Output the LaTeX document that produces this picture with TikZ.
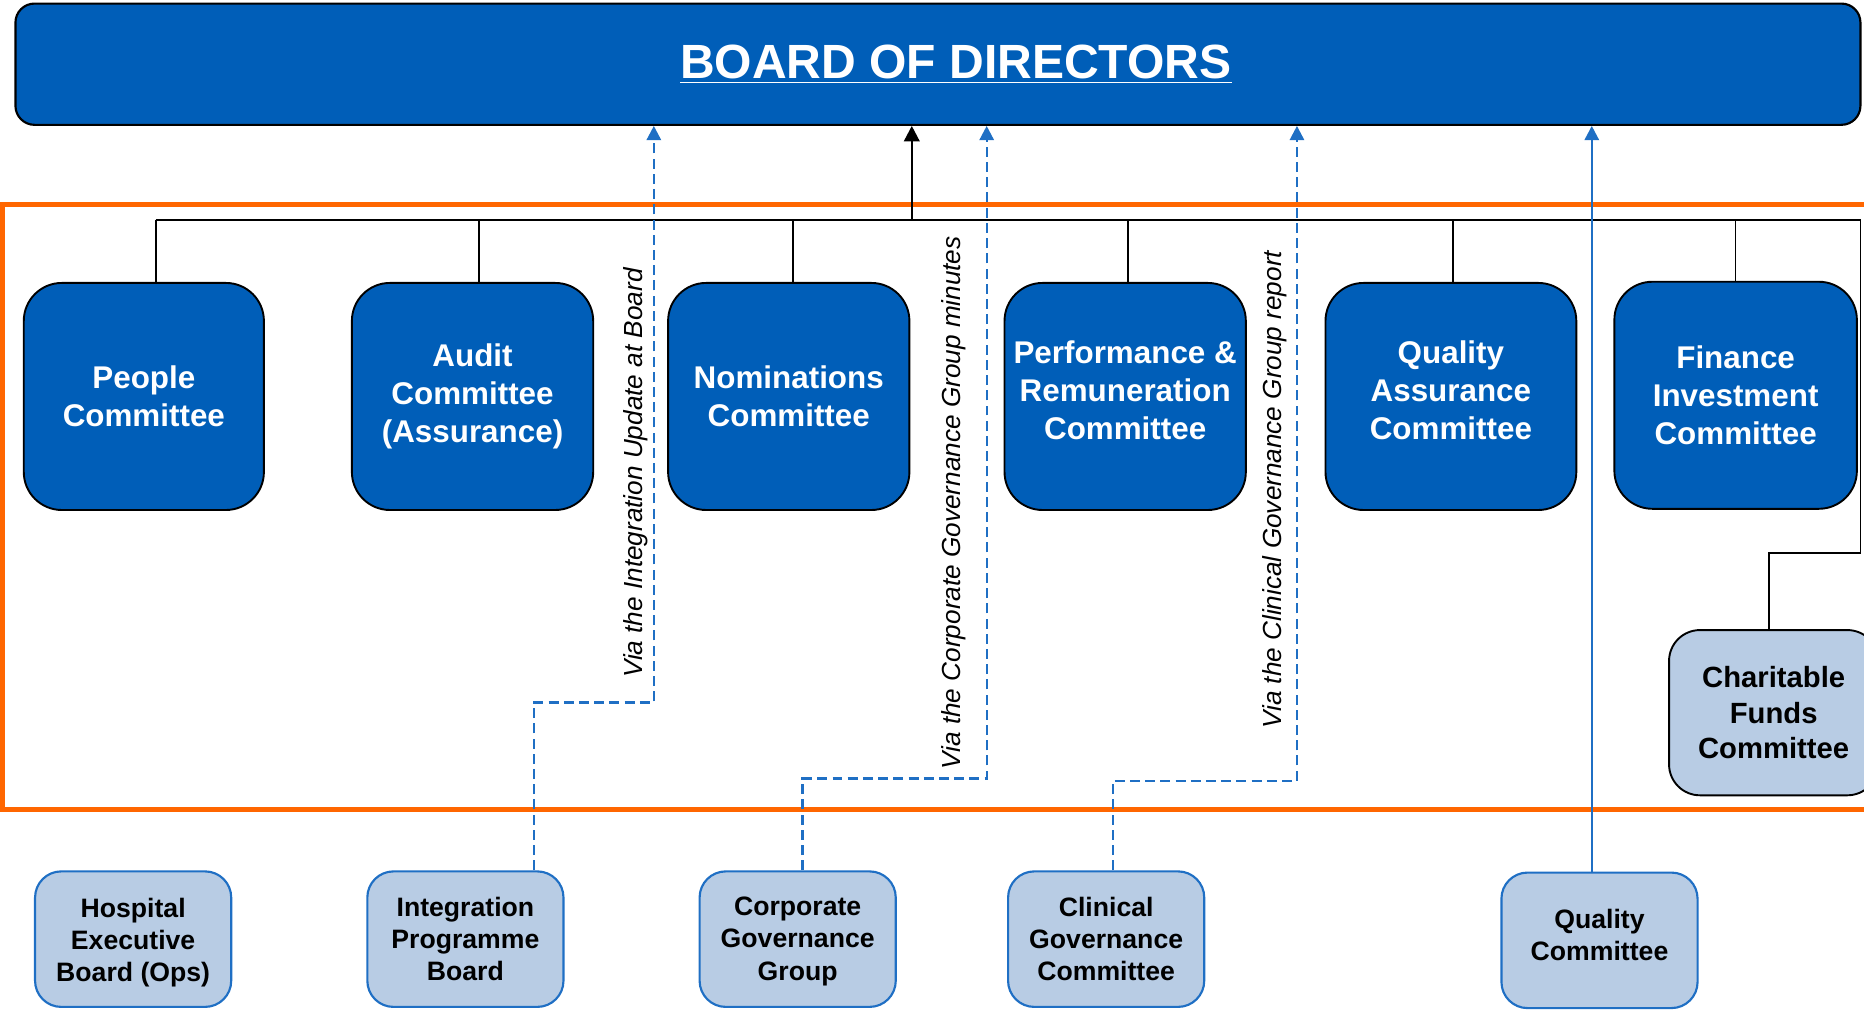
\documentclass[tikz,border=0pt]{standalone}
\usepackage{fontspec}
\setmainfont{Liberation Sans}
\usetikzlibrary{arrows.meta,calc}
\definecolor{nhsblue}{HTML}{005EB8}
\definecolor{lightfill}{HTML}{B8CCE4}
\definecolor{linkblue}{HTML}{1F6FC4}
\definecolor{frameorange}{HTML}{FF6600}
\newcommand{\nudgetext}[2]{\raisebox{#1}[\height][\depth]{\begin{tabular}{@{}c@{}}#2\end{tabular}}}
\begin{document}
\begin{tikzpicture}[x=0.5pt,y=-0.5pt,
  boardbox/.style={draw=black, line width=0.9pt, fill=nhsblue, rounded corners=8pt, minimum width=776pt, minimum height=51pt, inner sep=0pt},
  titletext/.style={text=white, font=\bfseries\fontsize{20.2}{24}\selectfont, inner sep=0pt},
  topbox/.style={draw=black, line width=0.8pt, fill=nhsblue, rounded corners=16pt, text=white, font=\bfseries\fontsize{13.2}{16}\selectfont, align=center, minimum height=95.5pt, inner sep=0pt},
  charbox/.style={draw=black, line width=0.8pt, fill=lightfill, rounded corners=13pt, text=black, font=\bfseries\fontsize{12.3}{14.8}\selectfont, align=center, minimum width=88pt, minimum height=69.5pt, inner sep=0pt},
  lowbox/.style={draw=linkblue, line width=0.9pt, fill=lightfill, rounded corners=11pt, text=black, font=\bfseries\fontsize{11.2}{13.5}\selectfont, align=center, minimum width=82.5pt, minimum height=57pt, inner sep=0pt},
  frame/.style={draw=frameorange, line width=2pt},
  bus/.style={draw=black, line width=0.7pt},
  mainarrow/.style={draw=black, line width=1pt, -{Triangle[width=6.5pt,length=6.5pt]}},
  viadash/.style={draw=linkblue, line width=1pt, dash pattern=on 4.2pt off 2.2pt, -{Triangle[width=6pt,length=6pt]}},
  viasolid/.style={draw=linkblue, line width=1pt, -{Triangle[width=6pt,length=6pt]}},
  vialabel/.style={rotate=90, font=\itshape\fontsize{11}{13}\selectfont, inner sep=0pt}
]
\useasboundingbox (0,0) rectangle (1568,852);

% orange frame (right side runs off the page)
\draw[frame] (1600,172) -- (2,172) -- (2,681) -- (1600,681);

% board
\node[boardbox] (board) at (789,54) {};
\node[titletext] (title) at (804,54) {\underline{BOARD OF DIRECTORS}};

% top committees
\node[topbox, minimum width=101pt]   (people) at (121,333.5) {People\\Committee};
\node[topbox, minimum width=101.5pt] (audit)  at (397.5,333.5) {Audit\\Committee\\(Assurance)};
\node[topbox, minimum width=101.5pt] (nom)    at (663.5,333.5) {Nominations\\Committee};
\node[topbox, minimum width=101.5pt] (perf)   at (946.5,333.5) {\nudgetext{1pt}{Performance \&\\Remuneration\\Committee}};
\node[topbox, minimum width=105.5pt] (qa)     at (1220.5,333.5) {\nudgetext{1pt}{Quality\\Assurance\\Committee}};
\node[topbox, minimum width=102pt]   (fin)    at (1460,332.5) {Finance\\Investment\\Committee};

\node[charbox] (charit) at (1492,599.5) {Charitable\\Funds\\Committee};

% lower groups
\node[lowbox] (hosp)  at (112,790)    {\nudgetext{-1.5pt}{Hospital\\Executive\\Board (Ops)}};
\node[lowbox] (intg)  at (391.5,790)  {Integration\\Programme\\Board};
\node[lowbox] (corp)  at (671,790)    {\nudgetext{-1pt}{Corporate\\Governance\\Group}};
\node[lowbox] (clin)  at (930.5,790)  {Clinical\\Governance\\Committee};
\node[lowbox] (qual)  at (1345.5,791) {\nudgetext{1pt}{Quality\\Committee}};

% bus of committees
\coordinate (b1) at (131,185);
\coordinate (b2) at (403,185);
\coordinate (b3) at (667,185);
\coordinate (b4) at (949,185);
\coordinate (b5) at (1222,185);
\coordinate (b6) at (1460,185);
\coordinate (bR) at (1565,185);
\coordinate (bm) at (767,185);
\coordinate (cr1) at (1565,465);
\coordinate (cr2) at (1488,465);

\draw[bus] (b1) -- (bR) -- (cr1) -- (cr2) -- (cr2 |- charit.north);
\draw[bus] (b1) -- (b1 |- people.north);
\draw[bus] (b2) -- (b2 |- audit.north);
\draw[bus] (b3) -- (b3 |- nom.north);
\draw[bus] (b4) -- (b4 |- perf.north);
\draw[bus] (b5) -- (b5 |- qa.north);
\draw[bus] (b6) -- (b6 |- fin.north);
\draw[mainarrow] (bm) -- (bm |- board.south);

% dashed reporting lines
\coordinate (d1a) at (449,591);
\coordinate (d1b) at (550,591);
\draw[viadash] (d1a |- intg.north) -- (d1a) -- (d1b) -- (d1b |- board.south);

\coordinate (d2a) at (675,655);
\coordinate (d2b) at (830,655);
\draw[viadash] (d2a |- corp.north) -- (d2a) -- (d2b) -- (d2b |- board.south);

\coordinate (d3a) at (936,657);
\coordinate (d3b) at (1091,657);
\draw[viadash] (d3a |- clin.north) -- (d3a) -- (d3b) -- (d3b |- board.south);

\coordinate (q1) at (1339,0);
\draw[viasolid] (q1 |- qual.north) -- (q1 |- board.south);

% labels
\node[vialabel] (l1) at (535,398) {Via the Integration Update at Board};
\node[vialabel] (l2) at (802,423) {Via the Corporate Governance Group minutes};
\node[vialabel] (l3) at (1072,412) {Via the Clinical Governance Group report};
\end{tikzpicture}
\end{document}
